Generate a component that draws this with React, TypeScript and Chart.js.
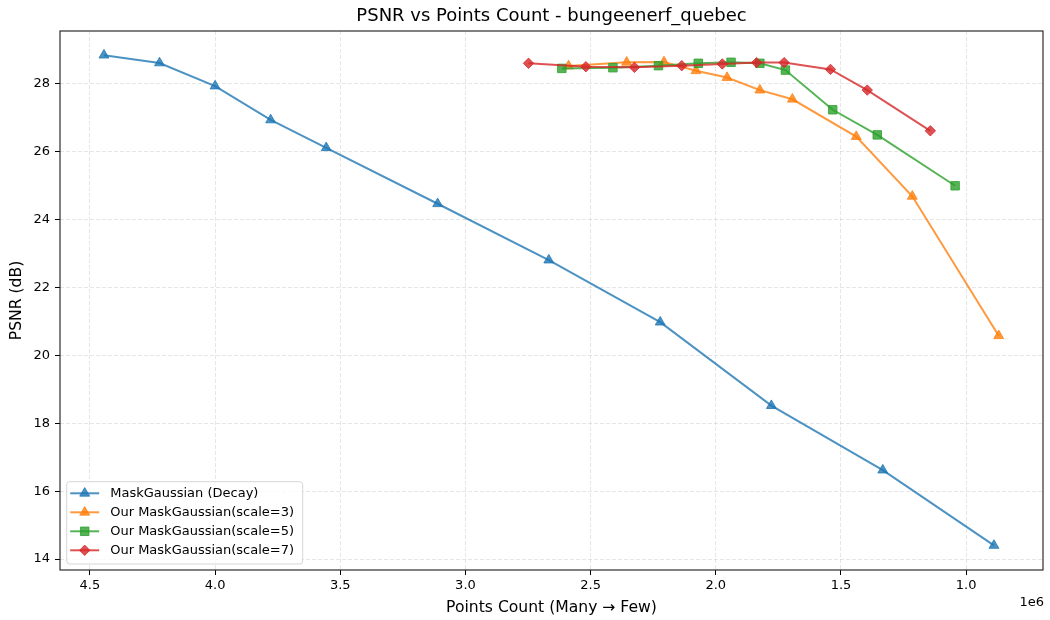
import React, { useEffect, useRef } from "react";
import { Chart, registerables } from "chart.js";

Chart.register(...registerables);

// ---------- data ----------
const chartTitle = "PSNR vs Points Count - bungeenerf_quebec";
const xAxisTitle = "Points Count (Many \u2192 Few)";
const yAxisTitle = "PSNR (dB)";
const xOffsetText = "1e6";

const seriesNames = [
  "MaskGaussian (Decay)",
  "Our MaskGaussian(scale=3)",
  "Our MaskGaussian(scale=5)",
  "Our MaskGaussian(scale=7)",
];

// points count (absolute) and PSNR values
const decayX = [4444000, 4222000, 4000000, 3778000, 3556000, 3111000, 2667000, 2222000, 1778000, 1333000, 889000];
const decayY = [28.85, 28.62, 27.94, 26.94, 26.12, 24.47, 22.81, 20.98, 18.52, 16.62, 14.4];

const scale3X = [2588000, 2356000, 2207000, 2079000, 1955000, 1824000, 1694000, 1439000, 1215000, 870000];
const scale3Y = [28.53, 28.64, 28.65, 28.39, 28.19, 27.82, 27.55, 26.45, 24.69, 20.58];

const scale5X = [2615000, 2411000, 2229000, 2070000, 1939000, 1824000, 1722000, 1533000, 1355000, 1044000];
const scale5Y = [28.46, 28.48, 28.54, 28.61, 28.64, 28.61, 28.41, 27.24, 26.5, 25.0];

const scale7X = [2748000, 2519000, 2325000, 2136000, 1974000, 1837000, 1727000, 1542000, 1395000, 1143000];
const scale7Y = [28.61, 28.51, 28.49, 28.54, 28.59, 28.63, 28.63, 28.43, 27.82, 26.62];

const xTickValues = [1000000, 1500000, 2000000, 2500000, 3000000, 3500000, 4000000, 4500000];
const yTickValues = [14, 16, 18, 20, 22, 24, 26, 28];

const xMin = 693000;
const xMax = 4619500;
const yMin = 13.676;
const yMax = 29.562;

// ---------- styles ----------
const FONT = "DejaVu Sans";
const colors = ["rgba(31,119,180,0.8)", "rgba(255,127,14,0.8)", "rgba(44,160,44,0.8)", "rgba(214,39,40,0.8)"];
const markerStyles = ["triangle", "triangle", "rect", "rectRot"];
const markerRadius = [5.7, 5.7, 6.0, 5.2];

const toPoints = (xs: number[], ys: number[]) => xs.map((x, i) => ({ x, y: ys[i] }));

function drawMarker(ctx: CanvasRenderingContext2D, style: string, cx: number, cy: number, r: number) {
  ctx.beginPath();
  if (style === "triangle") {
    ctx.moveTo(cx, cy - r);
    ctx.lineTo(cx - 0.866 * r, cy + 0.5 * r);
    ctx.lineTo(cx + 0.866 * r, cy + 0.5 * r);
    ctx.closePath();
  } else if (style === "rect") {
    const h = r * Math.SQRT1_2;
    ctx.rect(cx - h, cy - h, 2 * h, 2 * h);
  } else {
    ctx.moveTo(cx, cy - r);
    ctx.lineTo(cx + r, cy);
    ctx.lineTo(cx, cy + r);
    ctx.lineTo(cx - r, cy);
    ctx.closePath();
  }
  ctx.fill();
  ctx.stroke();
}

const decorPlugin = {
  id: "decor",
  afterDraw(chart: any) {
    const ctx: CanvasRenderingContext2D = chart.ctx;
    const a = chart.chartArea;
    ctx.save();
    // frame (spines)
    ctx.strokeStyle = "#1a1a1a";
    ctx.lineWidth = 1.1;
    ctx.setLineDash([]);
    ctx.strokeRect(a.left, a.top, a.right - a.left, a.bottom - a.top);

    // offset text
    ctx.fillStyle = "#000";
    ctx.font = `13px '${FONT}'`;
    ctx.textAlign = "right";
    ctx.textBaseline = "middle";
    ctx.fillText(xOffsetText, a.right + 1, 603);

    // legend
    const bx = a.left + 6.7;
    const by = a.bottom - 88.3;
    const bw = 236;
    const bh = 82.3;
    const rr = 3;
    ctx.beginPath();
    ctx.moveTo(bx + rr, by);
    ctx.lineTo(bx + bw - rr, by);
    ctx.arcTo(bx + bw, by, bx + bw, by + rr, rr);
    ctx.lineTo(bx + bw, by + bh - rr);
    ctx.arcTo(bx + bw, by + bh, bx + bw - rr, by + bh, rr);
    ctx.lineTo(bx + rr, by + bh);
    ctx.arcTo(bx, by + bh, bx, by + bh - rr, rr);
    ctx.lineTo(bx, by + rr);
    ctx.arcTo(bx, by, bx + rr, by, rr);
    ctx.closePath();
    ctx.fillStyle = "rgba(255,255,255,0.8)";
    ctx.fill();
    ctx.strokeStyle = "rgba(204,204,204,0.8)";
    ctx.lineWidth = 1;
    ctx.stroke();

    for (let i = 0; i < seriesNames.length; i++) {
      const cy = by + 11.6 + i * 19;
      ctx.strokeStyle = colors[i];
      ctx.lineWidth = 2;
      ctx.beginPath();
      ctx.moveTo(bx + 3.5, cy);
      ctx.lineTo(bx + 32.5, cy);
      ctx.stroke();
      ctx.fillStyle = colors[i];
      ctx.lineWidth = 1;
      drawMarker(ctx, markerStyles[i], bx + 18, cy, markerRadius[i]);
      ctx.fillStyle = "#000";
      ctx.font = `13px '${FONT}'`;
      ctx.textAlign = "left";
      ctx.textBaseline = "middle";
      ctx.fillText(seriesNames[i], bx + 43.5, cy);
    }
    ctx.restore();
  },
};

export default function App() {
  const ref = useRef<HTMLCanvasElement>(null);

  useEffect(() => {
    document.body.style.margin = "0";
    const canvas = ref.current;
    if (!canvas) return;
    Chart.defaults.font.family = FONT;
    Chart.defaults.color = "#000";

    const xsList = [decayX, scale3X, scale5X, scale7X];
    const ysList = [decayY, scale3Y, scale5Y, scale7Y];
    const orders = [3, 2, 1, 0];

    const datasets = seriesNames.map((name, i) => ({
      label: name,
      data: toPoints(xsList[i], ysList[i]),
      borderColor: colors[i],
      backgroundColor: colors[i],
      pointBackgroundColor: colors[i],
      pointBorderColor: colors[i],
      pointStyle: markerStyles[i],
      pointRadius: markerRadius[i],
      pointBorderWidth: 1,
      borderWidth: 2,
      tension: 0,
      fill: false,
      order: orders[i],
    }));

    const gridColor = "rgba(176,176,176,0.32)";

    const chart = new Chart(canvas, {
      type: "line",
      data: { datasets } as any,
      options: {
        responsive: false,
        animation: false,
        devicePixelRatio: 1,
        events: [],
        layout: { padding: { left: 0, right: 0, top: 0, bottom: 0 } },
        plugins: {
          legend: { display: false },
          tooltip: { enabled: false },
          title: {
            display: true,
            text: chartTitle,
            fullSize: false,
            color: "#000",
            font: { family: FONT, size: 18, weight: "normal" },
            padding: { top: 5.7, bottom: 3.7 },
          },
        },
        scales: {
          x: {
            type: "linear",
            reverse: true,
            min: xMin,
            max: xMax,
            afterBuildTicks: (s: any) => {
              s.ticks = xTickValues.map((v) => ({ value: v }));
            },
            afterFit: (s: any) => {
              s.height = 50;
            },
            ticks: {
              padding: 3,
              color: "#000",
              font: { family: FONT, size: 13 },
              maxRotation: 0,
              autoSkip: false,
              callback: (v: any) => (Number(v) / 1e6).toFixed(1),
            },
            grid: {
              color: gridColor,
              lineWidth: 1,
              tickLength: 5,
              tickColor: "#000",
              tickWidth: 1,
              tickBorderDash: [],
              borderDash: [4, 2],
            } as any,
            border: { display: false, dash: [4, 2] },
            title: {
              display: true,
              text: xAxisTitle,
              color: "#000",
              font: { family: FONT, size: 15.6 },
              padding: { top: 0, bottom: 3 },
            },
          },
          y: {
            type: "linear",
            min: yMin,
            max: yMax,
            afterBuildTicks: (s: any) => {
              s.ticks = yTickValues.map((v) => ({ value: v }));
            },
            afterFit: (s: any) => {
              s.width = 60;
            },
            ticks: {
              padding: 5,
              color: "#000",
              autoSkip: false,
              font: { family: FONT, size: 13 },
              callback: (v: any) => String(Math.round(Number(v))),
            },
            grid: {
              color: gridColor,
              lineWidth: 1,
              tickLength: 5,
              tickColor: "#000",
              tickWidth: 1,
              tickBorderDash: [],
              borderDash: [4, 2],
            } as any,
            border: { display: false, dash: [4, 2] },
            title: {
              display: true,
              text: yAxisTitle,
              color: "#000",
              font: { family: FONT, size: 15.6 },
              padding: { top: 8, bottom: 0 },
            },
          },
        },
      } as any,
      plugins: [decorPlugin],
    });

    return () => {
      chart.destroy();
    };
  }, []);

  return (
    <div style={{ position: "absolute", left: 0, top: 0, width: 1050, height: 620, background: "#fff" }}>
      <canvas ref={ref} width={1050} height={620} style={{ display: "block", width: 1050, height: 620 }} />
    </div>
  );
}
